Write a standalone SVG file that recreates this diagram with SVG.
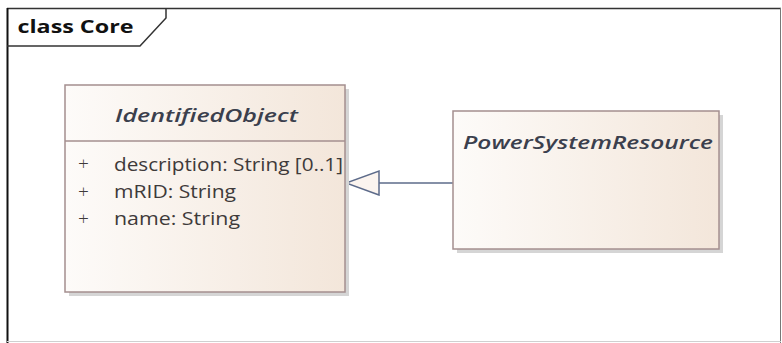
<svg xmlns="http://www.w3.org/2000/svg" width="782" height="343" viewBox="0 0 782 343">
<style>
.frame-title{font-family:"Open Sans","Noto Sans","Liberation Sans",sans-serif;font-weight:bold;font-size:18px;fill:#111}
.cls-name{font-family:"Open Sans","Noto Sans","Liberation Sans",sans-serif;font-weight:600;font-style:italic;font-size:18.5px;fill:#3b3f4d}
.attr{font-family:"Open Sans","Noto Sans","Liberation Sans",sans-serif;font-size:19px;fill:#3e3a3a}
.plus{font-family:"Open Sans","Noto Sans","Liberation Sans",sans-serif;font-size:19px;font-weight:300;fill:#3e3a3a}
.box{fill:url(#boxGrad);stroke:#a48f8f;stroke-width:1.5}
.shadow{fill:#d5d5d5}
.sep{stroke:#a48f8f;stroke-width:1.5}
.gen{stroke:#5d6b8a;stroke-width:1.5;fill:none}
</style>
<defs>
<linearGradient id="boxGrad" x1="0" y1="0" x2="1" y2="0">
<stop offset="0" stop-color="#fdfbf9"/>
<stop offset="1" stop-color="#f3e6da"/>
</linearGradient>
<marker id="genArrow" markerUnits="userSpaceOnUse" markerWidth="36" markerHeight="28" refX="34" refY="13" orient="auto">
<path d="M1,1 L34,13 L1,25 Z" fill="#fbf4ef" stroke="#5d6b8a" stroke-width="1.5"/>
</marker>
</defs>
<rect x="0" y="0" width="782" height="343" fill="#ffffff"/>
<g id="frame">
<line x1="7" y1="8.5" x2="781" y2="8.5" stroke="#333" stroke-width="1.5"/>
<line x1="7.5" y1="8" x2="7.5" y2="343" stroke="#111" stroke-width="2"/>
<line x1="780.5" y1="8" x2="780.5" y2="343" stroke="#777" stroke-width="1"/>
<line x1="7" y1="341.5" x2="781" y2="341.5" stroke="#d0d0d0" stroke-width="1"/>
<path d="M166,8 L166,18 L140,46 L7,46" fill="none" stroke="#333" stroke-width="1.5"/>
<text class="frame-title" x="17.5" y="33" textLength="116" lengthAdjust="spacingAndGlyphs">class Core</text>
</g>
<g id="connectors">
<line class="gen" x1="453" y1="183" x2="346" y2="183" marker-end="url(#genArrow)"/>
</g>
<g id="IdentifiedObject">
<rect class="shadow" x="69" y="89" width="280" height="207"/>
<rect class="box" x="65" y="85" width="280" height="207"/>
<line class="sep" x1="65" y1="141" x2="345" y2="141"/>
<text class="cls-name" x="206.5" y="122" text-anchor="middle" textLength="183" lengthAdjust="spacingAndGlyphs">IdentifiedObject</text>
<text class="plus" x="83.5" y="170" text-anchor="middle">+</text>
<text class="attr" x="114" y="171" textLength="229" lengthAdjust="spacingAndGlyphs">description: String [0..1]</text>
<text class="plus" x="83.5" y="198" text-anchor="middle">+</text>
<text class="attr" x="114" y="198" textLength="122" lengthAdjust="spacingAndGlyphs">mRID: String</text>
<text class="plus" x="83.5" y="225" text-anchor="middle">+</text>
<text class="attr" x="114" y="225" textLength="126" lengthAdjust="spacingAndGlyphs">name: String</text>
</g>
<g id="PowerSystemResource">
<rect class="shadow" x="457" y="115" width="266" height="138"/>
<rect class="box" x="453" y="111" width="266" height="138"/>
<text class="cls-name" x="463" y="149" textLength="250" lengthAdjust="spacingAndGlyphs">PowerSystemResource</text>
</g>
</svg>
